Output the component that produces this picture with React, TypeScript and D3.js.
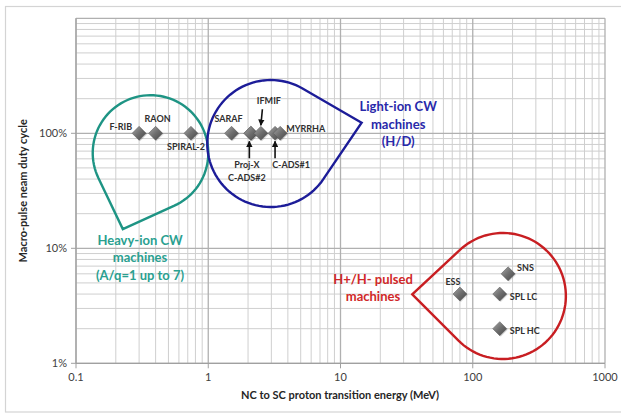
import React from "react";
import * as d3 from "d3";

// ---- data ----
const cwNames = ["F-RIB", "RAON", "SPIRAL-2", "SARAF", "Proj-X", "C-ADS#2", "IFMIF", "C-ADS#1", "MYRRHA"];
const cwEnergy = [0.3, 0.4, 0.74, 1.5, 2.1, 2.1, 2.5, 3.2, 3.5];
const cwDuty = [1, 1, 1, 1, 1, 1, 1, 1, 1];

const pulsedNames = ["ESS", "SNS", "SPL LC", "SPL HC"];
const pulsedEnergy = [80, 185, 160, 160];
const pulsedDuty = [0.04, 0.06, 0.04, 0.02];

const xTickValues = [0.1, 1, 10, 100, 1000];
const xTickLabels = ["0.1", "1", "10", "100", "1000"];
const yTickValues = [0.01, 0.1, 1];
const yTickLabels = ["1%", "10%", "100%"];

// group outlines: circle centre (energy, duty) and tip (energy, duty)
const groupNames = ["heavy", "light", "pulsed"];
const groupCenterE = [0.366, 2.97, 169];
const groupCenterD = [0.674, 0.815, 0.0385];
const groupTipE = [0.226, 14.45, 34.9];
const groupTipD = [0.147, 1.237, 0.0398];
const groupText = [
  ["Heavy-ion CW", "machines", "(A/q=1 up to 7)"],
  ["Light-ion CW", "machines", "(H/D)"],
  ["H+/H- pulsed", "machines"],
];
const groupTextE = [0.305, 27.3, 17.6];
const groupTextD = [0.107, 1.55, 0.049];

// ---- styles / layout ----
const W = 621, H = 415;
const groupRadius = [57.8, 63.5, 63];
const groupColor = ["#1e9484", "#1c1c98", "#c81e22"];
const groupTextColor = ["#2aa090", "#2828aa", "#d02828"];
const FONT = "Lato, 'Open Sans', sans-serif";

// label placement (px offsets from diamond)
const cwLabelPos: [number, number, string][] = [
  [-7, -3, "end"],
  [2, -11, "middle"],
  [-5, 17, "middle"],
  [-3, -11, "middle"],
  [-4, 35, "middle"],
  [-4, 48, "middle"],
  [8, -29, "middle"],
  [16, 35, "middle"],
  [6, -1, "start"],
];
const pulsedLabelPos: [number, number, string][] = [
  [-7, -9, "middle"],
  [9, -3, "start"],
  [10, 6, "start"],
  [10, 5, "start"],
];

function teardrop(cx: number, cy: number, r: number, tx: number, ty: number) {
  const d = Math.hypot(cx - tx, cy - ty);
  const a = Math.atan2(cy - ty, cx - tx);
  const b = Math.asin(r / d);
  const L = Math.sqrt(d * d - r * r);
  const p1 = [tx + L * Math.cos(a + b), ty + L * Math.sin(a + b)];
  const p2 = [tx + L * Math.cos(a - b), ty + L * Math.sin(a - b)];
  const th1 = Math.atan2(p1[1] - cy, p1[0] - cx);
  const th2 = Math.atan2(p2[1] - cy, p2[0] - cx);
  const thT = Math.atan2(ty - cy, tx - cx);
  const TAU = Math.PI * 2;
  const mod = (v: number) => ((v % TAU) + TAU) % TAU;
  const d1 = mod(th2 - th1);
  const tipRel = mod(thT - th1);
  const delta = tipRel < d1 ? d1 - TAU : d1;
  const p = d3.path();
  p.moveTo(tx, ty);
  p.lineTo(p1[0], p1[1]);
  const N = 80;
  for (let i = 1; i <= N; i++) {
    const t = th1 + (delta * i) / N;
    p.lineTo(cx + r * Math.cos(t), cy + r * Math.sin(t));
  }
  p.closePath();
  return p.toString();
}

export default function App() {
  const x = d3.scaleLog().domain([0.1, 1000]).range([76, 605]);
  const y = d3.scaleLog().domain([0.01, 10]).range([363.3, 18.3]);

  const xMinor: number[] = [];
  for (let dec = 0.1; dec < 1000; dec *= 10) for (let k = 2; k <= 9; k++) xMinor.push(dec * k);
  const yMinor: number[] = [];
  for (let dec = 0.01; dec < 10; dec *= 10) for (let k = 2; k <= 9; k++) yMinor.push(dec * k);
  const xMajor = [0.1, 1, 10, 100, 1000];
  const yMajor = [0.01, 0.1, 1, 10];

  const [x0, x1] = x.range();
  const [y0, y1] = y.range();

  const diamond = (px: number, py: number, key: string) => (
    <g key={key}>
      <path
        d={`M${px + 1},${py - 6} L${px + 8},${py + 1} L${px + 1},${py + 8} L${px - 6},${py + 1}Z`}
        fill="#000"
        opacity={0.15}
      />
      <path
        d={`M${px},${py - 7} L${px + 7},${py} L${px},${py + 7} L${px - 7},${py}Z`}
        fill="url(#dg)"
        stroke="#555"
        strokeWidth={0.5}
      />
    </g>
  );

  return (
    <svg
      width={W}
      height={H}
      style={{ position: "absolute", left: 0, top: 0, background: "#fff" }}
      fontFamily={FONT}
    >
      <defs>
        <linearGradient id="dg" x1="0" y1="0" x2="1" y2="1">
          <stop offset="0" stopColor="#a8a8a8" />
          <stop offset="0.5" stopColor="#6e6e6e" />
          <stop offset="1" stopColor="#454545" />
        </linearGradient>
        <marker id="ah" viewBox="0 0 10 10" refX="9" refY="5" markerWidth="4" markerHeight="4" orient="auto">
          <path d="M0,0 L10,5 L0,10 z" fill="#111" />
        </marker>
      </defs>
      <rect x={0} y={0} width={W} height={H} fill="#fff" />
      <rect x={5.5} y={6.5} width={640} height={405.5} fill="#fff" stroke="#d4d4d4" strokeWidth={1.2} />

      {/* grid */}
      {xMinor.map((v, i) => (
        <line key={"xm" + i} x1={x(v)} x2={x(v)} y1={y1} y2={y0} stroke="#cfcfcf" strokeWidth={1} />
      ))}
      {yMinor.map((v, i) => (
        <line key={"ym" + i} x1={x0} x2={x1} y1={y(v)} y2={y(v)} stroke="#cfcfcf" strokeWidth={1} />
      ))}
      {xMajor.map((v, i) => (
        <line key={"xM" + i} x1={x(v)} x2={x(v)} y1={y1} y2={y0} stroke="#b0b0b0" strokeWidth={1.3} />
      ))}
      {yMajor.map((v, i) => (
        <line key={"yM" + i} x1={x0} x2={x1} y1={y(v)} y2={y(v)} stroke="#b0b0b0" strokeWidth={1.3} />
      ))}
      {/* axes */}
      <line x1={x0} x2={x1} y1={y0} y2={y0} stroke="#a0a0a0" strokeWidth={1.2} />
      <line x1={x0} x2={x0} y1={y1} y2={y0} stroke="#a0a0a0" strokeWidth={1.2} />
      {xTickValues.map((v, i) => (
        <g key={"xt" + i}>
          <line x1={x(v)} x2={x(v)} y1={y0} y2={y0 + 5} stroke="#a0a0a0" />
          <text x={x(v)} y={y0 + 18} textAnchor="middle" fontSize={11} fill="#404040">
            {xTickLabels[i]}
          </text>
        </g>
      ))}
      {yTickValues.map((v, i) => (
        <g key={"yt" + i}>
          <line x1={x0 - 5} x2={x0} y1={y(v)} y2={y(v)} stroke="#a0a0a0" />
          <text x={x0 - 9} y={y(v) + 4} textAnchor="end" fontSize={11} fill="#404040">
            {yTickLabels[i]}
          </text>
        </g>
      ))}
      <text x={340} y={399} textAnchor="middle" fontSize={11} fontWeight="bold" fill="#262626">
        NC to SC proton transition energy (MeV)
      </text>
      <text
        transform={`translate(27,${(y0 + y1) / 2}) rotate(-90)`}
        textAnchor="middle"
        fontSize={11}
        fontWeight="bold"
        fill="#262626"
      >
        Macro-pulse neam duty cycle
      </text>

      {/* group outlines */}
      {groupNames.map((g, i) => (
        <path
          key={g}
          d={teardrop(x(groupCenterE[i]), y(groupCenterD[i]), groupRadius[i], x(groupTipE[i]), y(groupTipD[i]))}
          fill="none"
          stroke={groupColor[i]}
          strokeWidth={2.4}
          strokeLinejoin="miter"
        />
      ))}
      {groupNames.map((g, i) => (
        <text
          key={g + "t"}
          x={x(groupTextE[i])}
          y={y(groupTextD[i])}
          textAnchor="middle"
          fontSize={13}
          fontWeight="bold"
          fill={groupTextColor[i]}
        >
          {groupText[i].map((s, j) => (
            <tspan key={j} x={x(groupTextE[i])} dy={j === 0 ? 0 : 17.5}>
              {s}
            </tspan>
          ))}
        </text>
      ))}

      {/* points */}
      {cwNames.map((n, i) => diamond(x(cwEnergy[i]), y(cwDuty[i]), "c" + i))}
      {pulsedNames.map((n, i) => diamond(x(pulsedEnergy[i]), y(pulsedDuty[i]), "p" + i))}

      {/* arrows */}
      {(() => {
        const ix = cwNames.indexOf("IFMIF");
        const px = cwNames.indexOf("Proj-X");
        const cx = cwNames.indexOf("C-ADS#1");
        const yy = y(1);
        return (
          <g stroke="#111" strokeWidth={1.6} markerEnd="url(#ah)">
            <line x1={x(cwEnergy[ix]) + 1.5} y1={yy - 24} x2={x(cwEnergy[ix])} y2={yy - 8} />
            <line x1={x(cwEnergy[px]) - 1.5} y1={yy + 25} x2={x(cwEnergy[px]) - 1.5} y2={yy + 8} />
            <line x1={x(cwEnergy[cx])} y1={yy + 25} x2={x(cwEnergy[cx])} y2={yy + 8} />
          </g>
        );
      })()}

      {/* labels */}
      {cwNames.map((n, i) => (
        <text
          key={"cl" + i}
          x={x(cwEnergy[i]) + cwLabelPos[i][0]}
          y={y(cwDuty[i]) + cwLabelPos[i][1]}
          textAnchor={cwLabelPos[i][2]}
          fontSize={9}
          fontWeight="bold"
          fill="#303030"
        >
          {n}
        </text>
      ))}
      {pulsedNames.map((n, i) => (
        <text
          key={"pl" + i}
          x={x(pulsedEnergy[i]) + pulsedLabelPos[i][0]}
          y={y(pulsedDuty[i]) + pulsedLabelPos[i][1]}
          textAnchor={pulsedLabelPos[i][2]}
          fontSize={9}
          fontWeight="bold"
          fill="#303030"
        >
          {n}
        </text>
      ))}
    </svg>
  );
}
